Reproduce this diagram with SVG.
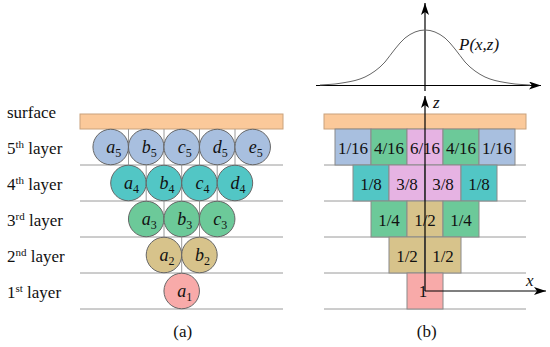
<svg xmlns="http://www.w3.org/2000/svg" width="550" height="347" viewBox="0 0 550 347">
<defs>
<style>
.lbl{font-family:"Liberation Serif","Times New Roman",serif;font-size:17px;fill:#111}
.it{font-family:"Liberation Serif","Times New Roman",serif;font-size:18px;font-style:italic;fill:#111}
.cap{font-family:"Liberation Serif","Times New Roman",serif;font-size:17px;fill:#111;text-anchor:middle}
.num{font-family:"Liberation Serif","Times New Roman",serif;font-size:17px;fill:#111;text-anchor:middle}
.sub{font-size:12px;font-style:normal}
.sup{font-size:11px}
.grid{stroke:#9a9a9a;stroke-width:1;fill:none}
.surf{fill:#fbc99a;stroke:#c9a27c;stroke-width:1}
.c{stroke:#666;stroke-width:1}
.cell{stroke:#8a8a8a;stroke-width:1}
.blue{fill:#a8bfdf}.teal{fill:#52c6c5}.green{fill:#6cc999}.tan{fill:#d7c38b}.pink{fill:#f8aaa9}.mag{fill:#e6b3e3}
.ax{stroke:#000;stroke-width:1.2;fill:none}
</style>
<marker id="arr" viewBox="0 0 12 8" refX="12" refY="4" markerWidth="12" markerHeight="8" markerUnits="userSpaceOnUse" orient="auto">
<path d="M0,0 L12,4 L0,8 L3,4 Z" fill="#000"/>
</marker>
</defs>
<rect width="550" height="347" fill="#fff"/>

<!-- left panel -->
<g id="left-grid">
<rect class="surf" x="80" y="114" width="203" height="15"/>
<path class="grid" d="M80,165H283M80,201H283M80,237H283M80,273H283M80,309H283"/>
<path class="grid" d="M128.5,129V165M164,129V165M199.5,129V165M235,129V165M146.2,165V201M181.7,165V201M217.2,165V201M164,201V237M199.5,201V237M181.7,237V273"/>
</g>
<g id="layer-labels">
<text class="lbl" x="7" y="118">surface</text>
<text class="lbl" x="7" y="153.5">5<tspan class="sup" dy="-6">th</tspan><tspan dy="6"> layer</tspan></text>
<text class="lbl" x="7" y="189.5">4<tspan class="sup" dy="-6">th</tspan><tspan dy="6"> layer</tspan></text>
<text class="lbl" x="7" y="225.5">3<tspan class="sup" dy="-6">rd</tspan><tspan dy="6"> layer</tspan></text>
<text class="lbl" x="7" y="261.5">2<tspan class="sup" dy="-6">nd</tspan><tspan dy="6"> layer</tspan></text>
<text class="lbl" x="7" y="297.5">1<tspan class="sup" dy="-6">st</tspan><tspan dy="6"> layer</tspan></text>
</g>
<g id="a5"><circle class="c blue" cx="110.7" cy="147" r="17.75"/><text class="it" x="113.7" y="153" text-anchor="middle">a<tspan class="sub" dy="4">5</tspan></text></g>
<g id="b5"><circle class="c blue" cx="146.2" cy="147" r="17.75"/><text class="it" x="149.2" y="153" text-anchor="middle">b<tspan class="sub" dy="4">5</tspan></text></g>
<g id="c5"><circle class="c blue" cx="181.7" cy="147" r="17.75"/><text class="it" x="184.7" y="153" text-anchor="middle">c<tspan class="sub" dy="4">5</tspan></text></g>
<g id="d5"><circle class="c blue" cx="217.2" cy="147" r="17.75"/><text class="it" x="220.2" y="153" text-anchor="middle">d<tspan class="sub" dy="4">5</tspan></text></g>
<g id="e5"><circle class="c blue" cx="252.7" cy="147" r="17.75"/><text class="it" x="255.7" y="153" text-anchor="middle">e<tspan class="sub" dy="4">5</tspan></text></g>
<g id="a4"><circle class="c teal" cx="128.45" cy="183" r="17.75"/><text class="it" x="131.45" y="189" text-anchor="middle">a<tspan class="sub" dy="4">4</tspan></text></g>
<g id="b4"><circle class="c teal" cx="163.95" cy="183" r="17.75"/><text class="it" x="166.95" y="189" text-anchor="middle">b<tspan class="sub" dy="4">4</tspan></text></g>
<g id="c4"><circle class="c teal" cx="199.45" cy="183" r="17.75"/><text class="it" x="202.45" y="189" text-anchor="middle">c<tspan class="sub" dy="4">4</tspan></text></g>
<g id="d4"><circle class="c teal" cx="234.95" cy="183" r="17.75"/><text class="it" x="237.95" y="189" text-anchor="middle">d<tspan class="sub" dy="4">4</tspan></text></g>
<g id="a3"><circle class="c green" cx="146.2" cy="219" r="17.75"/><text class="it" x="149.2" y="225" text-anchor="middle">a<tspan class="sub" dy="4">3</tspan></text></g>
<g id="b3"><circle class="c green" cx="181.7" cy="219" r="17.75"/><text class="it" x="184.7" y="225" text-anchor="middle">b<tspan class="sub" dy="4">3</tspan></text></g>
<g id="c3"><circle class="c green" cx="217.2" cy="219" r="17.75"/><text class="it" x="220.2" y="225" text-anchor="middle">c<tspan class="sub" dy="4">3</tspan></text></g>
<g id="a2"><circle class="c tan" cx="163.95" cy="255" r="17.75"/><text class="it" x="166.95" y="261" text-anchor="middle">a<tspan class="sub" dy="4">2</tspan></text></g>
<g id="b2"><circle class="c tan" cx="199.45" cy="255" r="17.75"/><text class="it" x="202.45" y="261" text-anchor="middle">b<tspan class="sub" dy="4">2</tspan></text></g>
<g id="a1"><circle class="c pink" cx="181.7" cy="291" r="17.75"/><text class="it" x="184.7" y="297" text-anchor="middle">a<tspan class="sub" dy="4">1</tspan></text></g>
<text class="cap" x="182.7" y="337">(a)</text>

<!-- right panel -->
<g id="right-grid">
<rect class="surf" x="324" y="114" width="202" height="15"/>
<path class="grid" d="M324,165H526M324,201H526M324,237H526M324,273H526M324,309H526"/>
</g>
<g id="r5-1"><rect class="cell blue" x="335" y="129" width="36" height="36"/><text class="num" x="353" y="153.5">1/16</text></g>
<g id="r5-2"><rect class="cell green" x="371" y="129" width="36" height="36"/><text class="num" x="389" y="153.5">4/16</text></g>
<g id="r5-3"><rect class="cell mag" x="407" y="129" width="36" height="36"/><text class="num" x="425" y="153.5">6/16</text></g>
<g id="r5-4"><rect class="cell green" x="443" y="129" width="36" height="36"/><text class="num" x="461" y="153.5">4/16</text></g>
<g id="r5-5"><rect class="cell blue" x="479" y="129" width="36" height="36"/><text class="num" x="497" y="153.5">1/16</text></g>
<g id="r4-1"><rect class="cell teal" x="353" y="165" width="36" height="36"/><text class="num" x="371" y="189.5">1/8</text></g>
<g id="r4-2"><rect class="cell mag" x="389" y="165" width="36" height="36"/><text class="num" x="407" y="189.5">3/8</text></g>
<g id="r4-3"><rect class="cell mag" x="425" y="165" width="36" height="36"/><text class="num" x="443" y="189.5">3/8</text></g>
<g id="r4-4"><rect class="cell teal" x="461" y="165" width="36" height="36"/><text class="num" x="479" y="189.5">1/8</text></g>
<g id="r3-1"><rect class="cell green" x="371" y="201" width="36" height="36"/><text class="num" x="389" y="225.5">1/4</text></g>
<g id="r3-2"><rect class="cell tan" x="407" y="201" width="36" height="36"/><text class="num" x="425" y="225.5">1/2</text></g>
<g id="r3-3"><rect class="cell green" x="443" y="201" width="36" height="36"/><text class="num" x="461" y="225.5">1/4</text></g>
<g id="r2-1"><rect class="cell tan" x="389" y="237" width="36" height="36"/><text class="num" x="407" y="261.5">1/2</text></g>
<g id="r2-2"><rect class="cell tan" x="425" y="237" width="36" height="36"/><text class="num" x="443" y="261.5">1/2</text></g>
<g id="r1-1"><rect class="cell pink" x="407" y="273" width="36" height="36"/><text class="num" x="423" y="297">1</text></g>

<g id="connectors">
<path class="ax" d="M425,291V96" marker-end="url(#arr)"/>
<path class="ax" d="M425,291H546" marker-end="url(#arr)"/>
<path class="ax" d="M425,91V3" marker-end="url(#arr)"/>
<path class="ax" d="M316,85.5H541" marker-end="url(#arr)"/>
</g>
<g id="curve">
<polyline fill="none" stroke="#666" stroke-width="1" points="320,85 325,84.7 330,84.4 335,84 340,83.3 345,82.5 350,81.6 355,80.5 360,79 365,77 370,74.3 375,71 380,67 385,62 390,55.5 395,49 400,43 405,38 410,34.5 415,32 420,30.5 425,30 430,30.5 435,32 440,34.5 445,38 450,43 455,49 460,55.5 465,62 470,67 475,71 480,74.3 485,77 490,79 495,80.5 500,81.6 505,82.5 510,83.3 515,84 520,84.4 525,84.7 530,85"/>
</g>
<text class="it" x="459" y="50" style="font-size:17px">P(x,z)</text>
<text class="it" x="433" y="108" style="font-size:17px">z</text>
<text class="it" x="526" y="286" style="font-size:17px">x</text>
<text class="cap" x="426.7" y="337">(b)</text>
</svg>
